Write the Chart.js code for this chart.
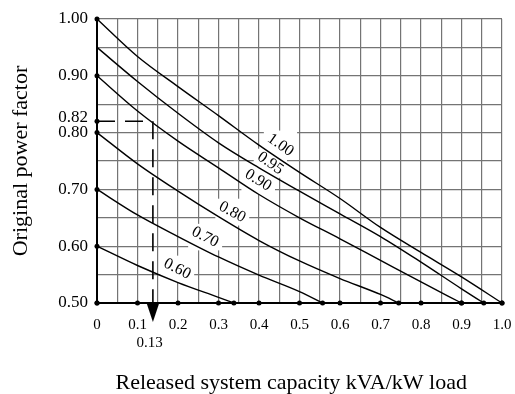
<!DOCTYPE html>
<html>
<head>
<meta charset="utf-8">
<script src="https://cdn.jsdelivr.net/npm/chart.js@4.4.1/dist/chart.umd.min.js"></script>
<style>
  html, body { margin: 0; padding: 0; background: #fff; }
</style>
</head>
<body>
<canvas id="grafico" width="515" height="394"></canvas>
<script>
// valores
const xLabelVals = [0, 0.1, 0.2, 0.3, 0.4, 0.5, 0.6, 0.7, 0.8, 0.9, 1.0];
const xLabelText = ['0', '0.1', '0.2', '0.3', '0.4', '0.5', '0.6', '0.7', '0.8', '0.9', '1.0'];
const yLabelVals = [0.5, 0.6, 0.7, 0.8, 0.82, 0.9, 1.0];
const yLabelText = ['0.50', '0.60', '0.70', '0.80', '0.82', '0.90', '1.00'];

const curveNames = ['1.00', '0.95', '0.90', '0.80', '0.70', '0.60'];
const x100 = [0, 0.1, 0.2, 0.3, 0.4, 0.5, 0.6, 0.7, 0.8, 0.9, 1.0];
const y100 = [1.000, 0.934, 0.881, 0.830, 0.778, 0.730, 0.684, 0.633, 0.589, 0.546, 0.500];
const x95 = [0, 0.1, 0.2, 0.3, 0.4, 0.5, 0.6, 0.7, 0.8, 0.9, 0.955];
const y95 = [0.950, 0.890, 0.834, 0.782, 0.738, 0.697, 0.657, 0.617, 0.572, 0.525, 0.500];
const x90 = [0, 0.1, 0.2, 0.3, 0.4, 0.5, 0.6, 0.7, 0.8, 0.9];
const y90 = [0.900, 0.838, 0.785, 0.738, 0.691, 0.650, 0.613, 0.575, 0.537, 0.500];
const x80 = [0, 0.1, 0.2, 0.3, 0.4, 0.5, 0.6, 0.7, 0.745];
const y80 = [0.800, 0.745, 0.697, 0.652, 0.610, 0.574, 0.543, 0.515, 0.500];
const x70 = [0, 0.1, 0.2, 0.3, 0.4, 0.5, 0.557];
const y70 = [0.700, 0.655, 0.617, 0.581, 0.549, 0.520, 0.500];
const x60 = [0, 0.1, 0.2, 0.3, 0.338];
const y60 = [0.600, 0.566, 0.536, 0.510, 0.500];

// onde ficam os rótulos das curvas (coordenadas de dados)
const labelX = [0.453, 0.428, 0.398, 0.334, 0.267, 0.198];
const labelY = [0.778, 0.746, 0.716, 0.660, 0.616, 0.560];
const labelAngle = [35, 35, 32, 28, 27, 27];

// exemplo tracejado: 0.82 -> 0.13
const dashX = [0, 0.138, 0.138];
const dashY = [0.82, 0.82, 0.5];
const exemploX = 0.13;

const fonte = '"Liberation Serif", "Times New Roman", serif';
const cinza = '#747474';
const perto = (a, b) => Math.abs(a - b) < 1e-6;

const xGrid = [];
for (let i = 0; i <= 20; i++) xGrid.push(i / 20);
xGrid.push(exemploX);
xGrid.sort((a, b) => a - b);
const yGrid = [];
for (let i = 10; i <= 20; i++) yGrid.push(i / 20);
yGrid.push(0.82);
yGrid.sort((a, b) => a - b);

const pares = (xs, ys) => xs.map((v, i) => ({ x: v, y: ys[i] }));
const curvas = [[x100, y100], [x95, y95], [x90, y90], [x80, y80], [x70, y70], [x60, y60]];

const datasets = curvas.map(([xs, ys], i) => ({
    label: curveNames[i],
    data: pares(xs, ys),
    borderColor: '#000',
    borderWidth: 1.4,
    cubicInterpolationMode: 'monotone',
    pointRadius: (c) => c.dataIndex === xs.length - 1 ? 2.5 : 0,
    pointBackgroundColor: '#000',
    pointBorderWidth: 0,
    clip: 6
}));
datasets.push({
    label: 'exemplo',
    data: pares(dashX, dashY),
    borderColor: '#000',
    borderWidth: 1.6,
    borderDash: [18, 10],
    tension: 0,
    pointRadius: 0,
    clip: 6
});

const semPadding = (s) => {
    s.paddingLeft = 0;
    s.paddingRight = 0;
    s.paddingTop = 0;
    s.paddingBottom = 0;
};

const extras = {
    id: 'extras',
    beforeDatasetsDraw(chart) {
        const { ctx, scales: { x, y } } = chart;
        ctx.save();
        ctx.font = '16px ' + fonte;
        ctx.fillStyle = '#fff';
        curveNames.forEach((t, i) => {
            const px = x.getPixelForValue(labelX[i]);
            const py = y.getPixelForValue(labelY[i]);
            const w = ctx.measureText(t).width, h = 11;
            const a = labelAngle[i] * Math.PI / 180;
            const bw = w * Math.cos(a) + h * Math.sin(a) + 4;
            const bh = w * Math.sin(a) + h * Math.cos(a) + 4;
            ctx.fillRect(px - bw / 2, py - bh / 2, bw, bh);
        });
        ctx.restore();
    },
    afterDatasetsDraw(chart) {
        const { ctx, scales: { x, y } } = chart;
        ctx.save();
        ctx.font = '16px ' + fonte;
        ctx.fillStyle = '#000';
        ctx.textAlign = 'center';
        ctx.textBaseline = 'middle';
        curveNames.forEach((t, i) => {
            ctx.save();
            ctx.translate(x.getPixelForValue(labelX[i]), y.getPixelForValue(labelY[i]));
            ctx.rotate(labelAngle[i] * Math.PI / 180);
            ctx.fillText(t, 0, 0);
            ctx.restore();
        });
        ctx.restore();
    },
    afterDraw(chart) {
        const { ctx, scales: { x, y } } = chart;
        ctx.save();
        ctx.fillStyle = '#000';
        // pontos nos eixos
        yLabelVals.forEach(v => {
            ctx.beginPath();
            ctx.arc(x.left, y.getPixelForValue(v), 2.5, 0, Math.PI * 2);
            ctx.fill();
        });
        xLabelVals.forEach(v => {
            ctx.beginPath();
            ctx.arc(x.getPixelForValue(v), y.bottom, 2.5, 0, Math.PI * 2);
            ctx.fill();
        });
        // rótulo 0.82 levemente acima
        ctx.font = '17px ' + fonte;
        ctx.textAlign = 'right';
        ctx.textBaseline = 'middle';
        const i82 = yLabelVals.indexOf(0.82);
        ctx.fillText(yLabelText[i82], y.right - 9, y.getPixelForValue(0.82) - 4);
        // seta
        const xa = x.getPixelForValue(dashX[1]);
        const topo = y.bottom + 1;
        ctx.beginPath();
        ctx.moveTo(xa - 6, topo);
        ctx.lineTo(xa + 6, topo);
        ctx.lineTo(xa, topo + 18);
        ctx.closePath();
        ctx.fill();
        ctx.restore();
    }
};

new Chart(document.getElementById('grafico'), {
    type: 'line',
    data: { datasets: datasets },
    options: {
        responsive: false,
        animation: false,
        layout: { padding: { top: 19, right: 13, left: 0, bottom: 0 } },
        plugins: {
            legend: { display: false },
            tooltip: { enabled: false }
        },
        scales: {
            x: {
                type: 'linear',
                min: 0,
                max: 1,
                afterBuildTicks: (s) => { s.ticks = xGrid.map(v => ({ value: v })); },
                afterFit: (s) => { s.height = 91; semPadding(s); },
                grid: {
                    color: (c) => c.tick && perto(c.tick.value, exemploX) ? 'rgba(0,0,0,0)' : cinza,
                    lineWidth: 1.2,
                    drawTicks: false
                },
                border: { color: '#000', width: 2 },
                ticks: {
                    autoSkip: false,
                    maxRotation: 0,
                    padding: 13,
                    color: '#000',
                    font: { family: fonte, size: 15 },
                    callback: (v) => {
                        if (perto(v, exemploX)) return ['', String(exemploX)];
                        const i = xLabelVals.findIndex(t => perto(t, v));
                        return i >= 0 ? xLabelText[i] : '';
                    }
                },
                title: {
                    display: true,
                    text: 'Released system capacity kVA/kW load\u00a0\u00a0\u00a0',
                    color: '#000',
                    font: { family: fonte, size: 22, lineHeight: 1 },
                    padding: { top: 0, bottom: 0 }
                }
            },
            y: {
                type: 'linear',
                min: 0.5,
                max: 1,
                afterBuildTicks: (s) => { s.ticks = yGrid.map(v => ({ value: v })); },
                afterFit: (s) => { s.width = 97; semPadding(s); },
                grid: {
                    color: (c) => c.tick && perto(c.tick.value, 0.82) ? 'rgba(0,0,0,0)' : cinza,
                    lineWidth: 1.2,
                    drawTicks: false
                },
                border: { color: '#000', width: 2 },
                ticks: {
                    autoSkip: false,
                    padding: 9,
                    color: '#000',
                    font: { family: fonte, size: 17 },
                    callback: (v) => {
                        if (perto(v, 0.82)) return '';
                        const i = yLabelVals.findIndex(t => perto(t, v));
                        return i >= 0 ? yLabelText[i] : '';
                    }
                },
                title: {
                    display: true,
                    text: 'Original power factor',
                    color: '#000',
                    font: { family: fonte, size: 22, lineHeight: 1 },
                    padding: { top: 10, bottom: 0 }
                }
            }
        }
    },
    plugins: [extras]
});
</script>
</body>
</html>
